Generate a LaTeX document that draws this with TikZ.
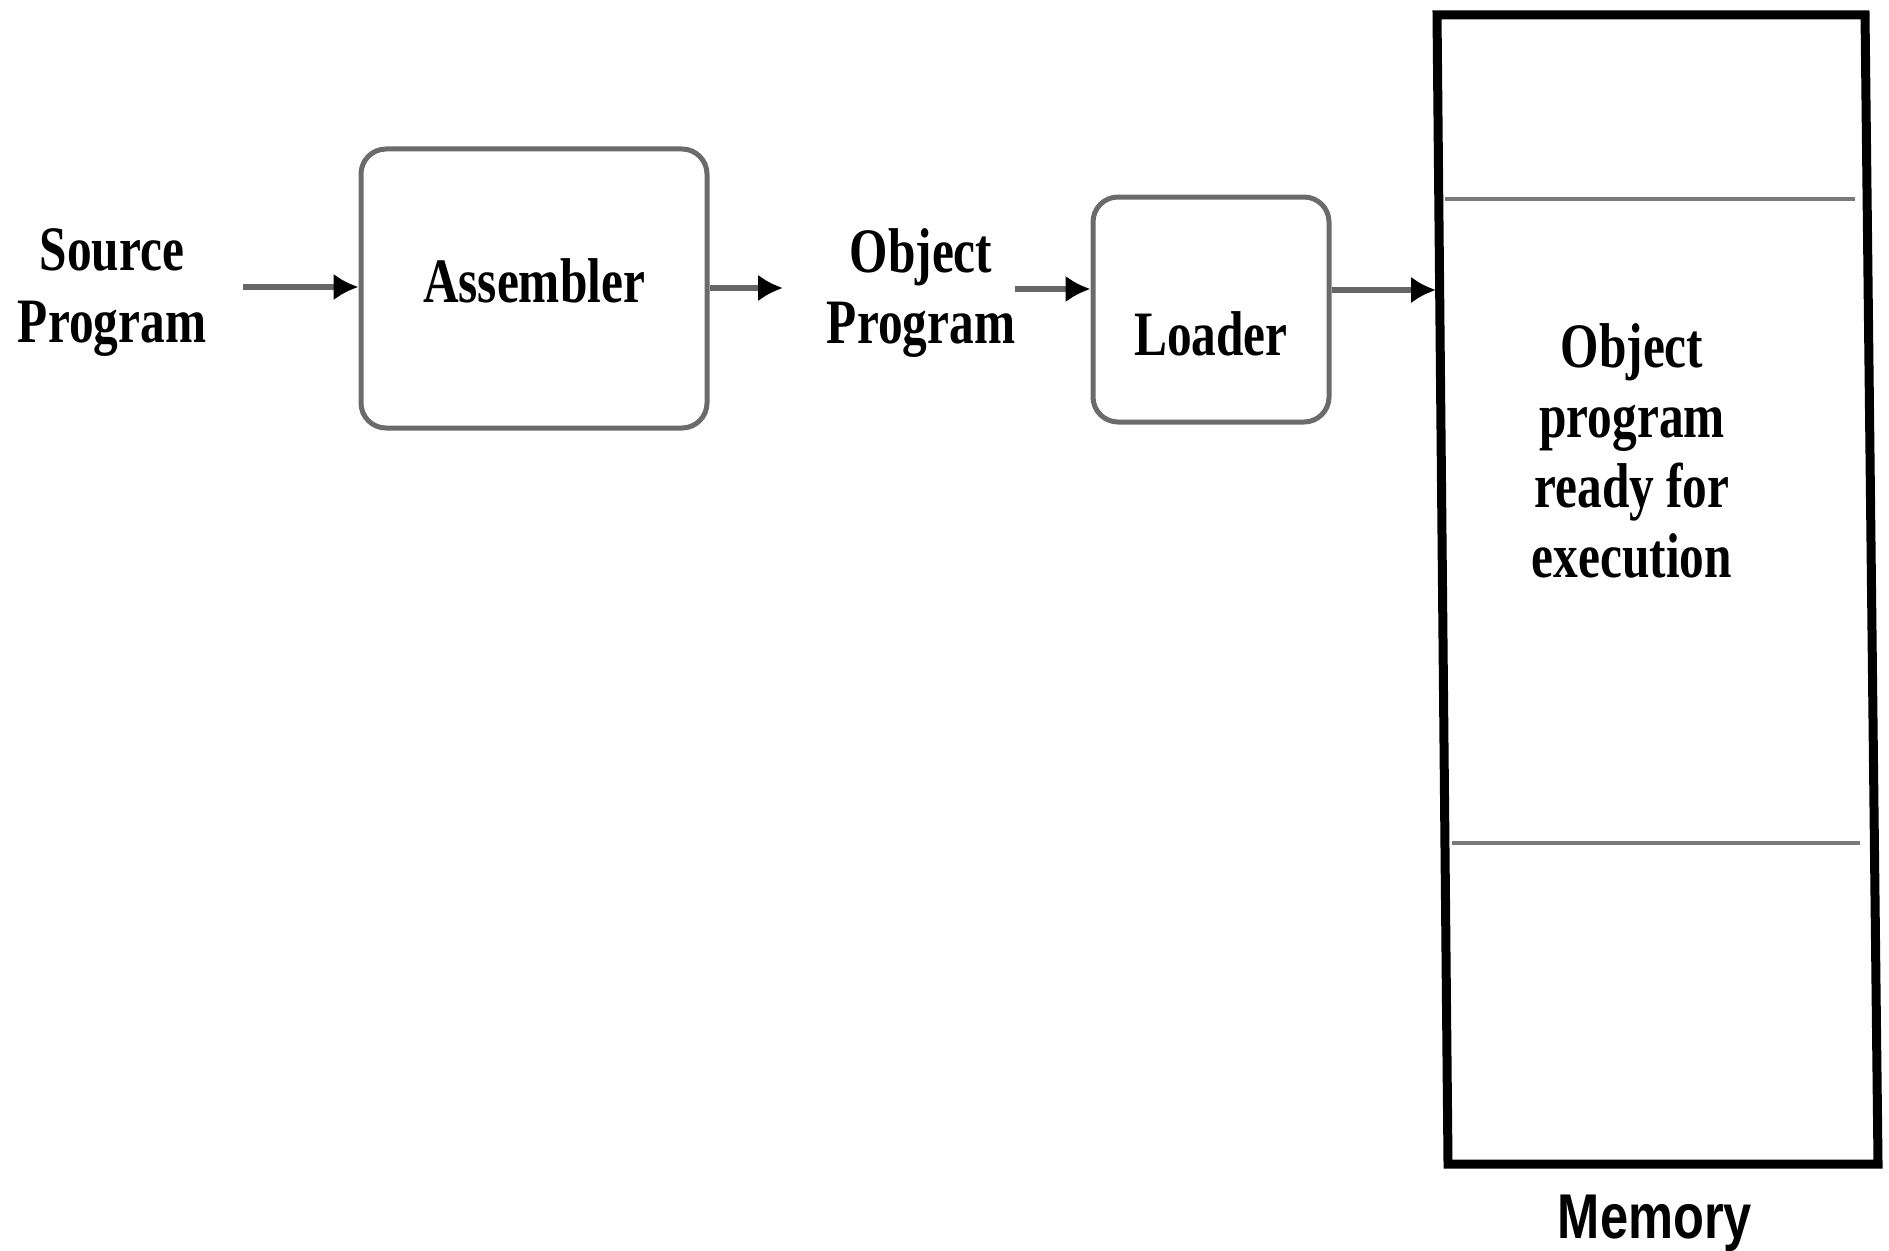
\documentclass[tikz,border=0pt]{standalone}
\usepackage{fontspec}
\setmainfont{Liberation Serif}
\setsansfont{Liberation Sans}
\usetikzlibrary{arrows.meta}

% condensed bold serif text block, last line on the baseline
\newcommand\condtext[2]{\scalebox{0.78}[1]{\fontsize{18}{#1}\selectfont\bfseries
  \begin{tabular}[b]{@{}c@{}}#2\end{tabular}}}

\begin{document}
\begin{tikzpicture}[
  x=1cm, y=1cm,
  procbox/.style={draw=black!58, line width=0.05cm, rounded corners=0.25cm,
    fill=white, inner sep=0pt},
  lbl/.style={inner sep=0pt, anchor=base},
  flow/.style={draw=black!60, line width=0.055cm,
    -{Latex[length=0.25cm,width=0.27cm,color=black]}},
  divider/.style={draw=black!52, line width=0.045cm},
  memwall/.style={draw=black, line width=0.09cm, line join=miter}
]
\useasboundingbox (0,0) rectangle (18.89,-12.5);

% processing boxes
\node[procbox, minimum width=3.46cm, minimum height=2.79cm] (asm) at (5.34,-2.885)
  {\condtext{20}{Assembler}};
\node[procbox, minimum width=2.36cm, minimum height=2.25cm] (loader) at (12.11,-3.095) {};
\node[lbl] (loadertxt) at (12.11,-3.55) {\condtext{20}{Loader}};

% free-standing labels
\node[lbl] (src) at (1.12,-3.42) {\condtext{20.4}{Source\\Program}};
\node[lbl] (objprog) at (9.21,-3.43) {\condtext{20.2}{Object\\Program}};

% memory column
\coordinate (mtl) at (14.37,-0.15);
\coordinate (mtr) at (18.65,-0.15);
\coordinate (mbr) at (18.78,-11.64);
\coordinate (mbl) at (14.48,-11.64);
\draw[memwall] (mtl) -- (mtr) -- (mbr) -- (mbl) -- cycle;
\coordinate (d1a) at (14.45,-1.99);
\coordinate (d1b) at (18.55,-1.99);
\coordinate (d2a) at (14.52,-8.43);
\coordinate (d2b) at (18.60,-8.43);
\draw[divider] (d1a) -- (d1b);
\draw[divider] (d2a) -- (d2b);
\node[lbl] (ready) at (16.32,-5.77)
  {\condtext{19.9}{Object\\program\\ready for\\execution}};
\node[lbl] (mem) at (16.55,-12.38)
  {\scalebox{0.8}[1]{\fontsize{18}{20}\selectfont\sffamily\bfseries Memory}};

% connectors
\coordinate (srcout) at (2.43,-2.87);
\coordinate (objin)  at (7.83,-2.88);
\coordinate (objout) at (10.15,-2.89);
\coordinate (memin)  at (14.36,-2.90);
\draw[flow] (srcout) -- (srcout -| asm.west);
\draw[flow] (objin -| asm.east) -- (objin);
\draw[flow] (objout) -- (objout -| loader.west);
\draw[flow] (memin -| loader.east) -- (memin);
\end{tikzpicture}
\end{document}
